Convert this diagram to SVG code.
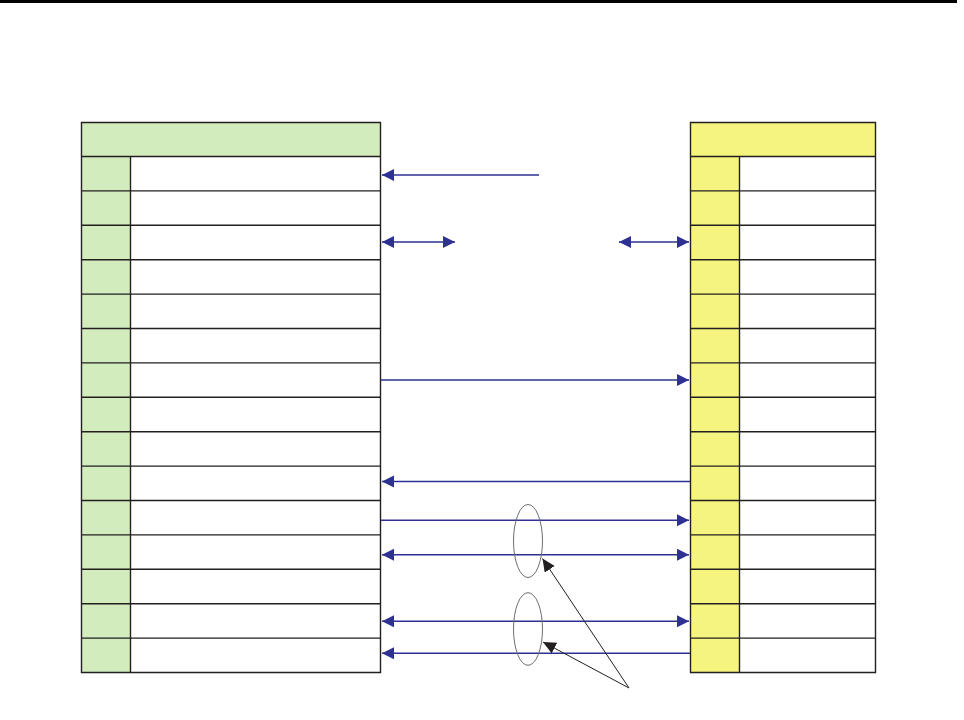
<svg xmlns="http://www.w3.org/2000/svg" width="964" height="720" viewBox="0 0 964 720">
<style>
.grid{fill:none;stroke:#231F20;stroke-width:1.4}
.green{fill:#D3ECBE}
.yellow{fill:#F5F47E}
.wire{stroke:#2E3192;stroke-width:1.4;fill:none}
.ring{fill:none;stroke:#6D6E71;stroke-width:1}
.call{stroke:#231F20;stroke-width:1;fill:none}
</style>
<defs>
<marker id="ah" markerUnits="userSpaceOnUse" markerWidth="13" markerHeight="13" refX="12" refY="6" orient="auto-start-reverse">
<path d="M0,0 L12,6 L0,12 z" fill="#2E3192"/>
</marker>
<marker id="bh" markerUnits="userSpaceOnUse" markerWidth="14" markerHeight="14" refX="13" refY="6" orient="auto">
<path d="M0,0 L13,6 L0,12 z" fill="#231F20"/>
</marker>
</defs>
<rect x="0" y="0" width="957" height="3" fill="#000"/>
<g id="left-table">
<rect x="81.5" y="122.5" width="299" height="550" fill="#fff"/>
<rect class="green" x="81.5" y="122.5" width="299" height="34"/>
<rect class="green" x="81.5" y="156.5" width="49" height="516"/>
<path class="grid" d="M81.5,122.5H380.5V672.5H81.5Z M130.5,156.5V672.5 M81.5,156.5H380.5 M81.5,190.9H380.5 M81.5,225.3H380.5 M81.5,259.7H380.5 M81.5,294.1H380.5 M81.5,328.5H380.5 M81.5,362.9H380.5 M81.5,397.3H380.5 M81.5,431.7H380.5 M81.5,466.1H380.5 M81.5,500.5H380.5 M81.5,534.9H380.5 M81.5,569.3H380.5 M81.5,603.7H380.5 M81.5,638.1H380.5"/>
</g>
<g id="right-table">
<rect x="690.5" y="122.5" width="185" height="550" fill="#fff"/>
<rect class="yellow" x="690.5" y="122.5" width="185" height="34"/>
<rect class="yellow" x="690.5" y="156.5" width="49" height="516"/>
<path class="grid" d="M690.5,122.5H875.5V672.5H690.5Z M739.5,156.5V672.5 M690.5,156.5H875.5 M690.5,190.9H875.5 M690.5,225.3H875.5 M690.5,259.7H875.5 M690.5,294.1H875.5 M690.5,328.5H875.5 M690.5,362.9H875.5 M690.5,397.3H875.5 M690.5,431.7H875.5 M690.5,466.1H875.5 M690.5,500.5H875.5 M690.5,534.9H875.5 M690.5,569.3H875.5 M690.5,603.7H875.5 M690.5,638.1H875.5"/>
</g>
<g id="connectors">
<line class="wire" x1="539" y1="175" x2="382" y2="175" marker-end="url(#ah)"/>
<line class="wire" x1="382" y1="242" x2="455" y2="242" marker-start="url(#ah)" marker-end="url(#ah)"/>
<line class="wire" x1="619" y1="242" x2="689" y2="242" marker-start="url(#ah)" marker-end="url(#ah)"/>
<line class="wire" x1="381" y1="380" x2="689" y2="380" marker-end="url(#ah)"/>
<line class="wire" x1="690" y1="481.5" x2="382" y2="481.5" marker-end="url(#ah)"/>
<line class="wire" x1="381" y1="520.3" x2="689" y2="520.3" marker-end="url(#ah)"/>
<line class="wire" x1="382" y1="554.7" x2="689" y2="554.7" marker-start="url(#ah)" marker-end="url(#ah)"/>
<line class="wire" x1="382" y1="621.3" x2="689" y2="621.3" marker-start="url(#ah)" marker-end="url(#ah)"/>
<line class="wire" x1="690" y1="653.3" x2="382" y2="653.3" marker-end="url(#ah)"/>
</g>
<g id="callout">
<ellipse class="ring" cx="528" cy="541" rx="14.5" ry="36.5"/>
<ellipse class="ring" cx="528" cy="629" rx="14.5" ry="36.3"/>
<line class="call" x1="629" y1="688" x2="542.5" y2="558.5" marker-end="url(#bh)"/>
<line class="call" x1="629" y1="688" x2="543" y2="642" marker-end="url(#bh)"/>
</g>
</svg>
